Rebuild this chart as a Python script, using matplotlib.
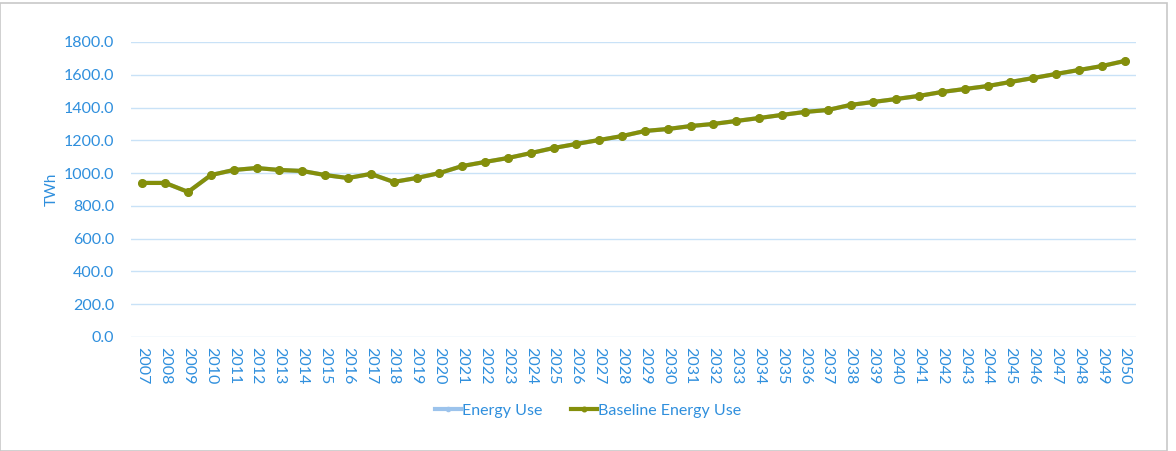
import numpy as np
import matplotlib
matplotlib.use('Agg')
import matplotlib.pyplot as plt
from matplotlib.patches import Rectangle

plt.rcParams['font.family'] = ['Lato', 'DejaVu Sans']

years = list(range(2007, 2051))
baseline = [940, 940, 885, 988, 1019, 1031, 1019, 1013, 988, 970,
            995, 946, 970, 1000, 1043, 1068, 1092, 1122, 1153, 1178,
            1202, 1226, 1257, 1269, 1287, 1300, 1318, 1336, 1355, 1373,
            1385, 1416, 1434, 1452, 1471, 1495, 1513, 1531, 1556, 1580,
            1605, 1629, 1653, 1684]
energy_use = list(baseline)

blue = '#2F8FDD'
grid_c = '#C9E2F7'
olive = '#848F0B'
light = '#9CC3EC'

fig = plt.figure(figsize=(11.76, 4.51), dpi=100)
fig.patches.append(Rectangle((0.0, 0.0), 0.992, 0.993, transform=fig.transFigure,
                             fill=False, edgecolor='#C8C8C8', linewidth=1.2))
ax = fig.add_axes([0.1114, 0.2528, 0.8546, 0.6541])

x = np.arange(len(years))
ax.plot(x, energy_use, color=light, lw=3, marker='o', ms=5, label='Energy Use', zorder=2)
ax.plot(x, baseline, color=olive, lw=3, marker='o', ms=5.5, label='Baseline Energy Use', zorder=3)

ax.set_xlim(-0.5, len(years) - 0.5)
ax.set_ylim(0, 1800)
ax.set_yticks(np.arange(0, 1801, 200))
ax.set_yticklabels([f'{v:.1f}' for v in np.arange(0, 1801, 200)])
ax.set_xticks(x)
ax.set_xticklabels([str(y) for y in years], rotation=-90)
ax.tick_params(axis='both', length=0, colors=blue, labelsize=11.5)
ax.tick_params(axis='y', pad=12)
ax.tick_params(axis='x', pad=7)
ax.grid(axis='y', color=grid_c, lw=1)
ax.set_axisbelow(True)
for s in ax.spines.values():
    s.set_visible(False)
ax.set_ylabel('TWh', color=blue, fontsize=11, labelpad=4)

ax.legend(loc='center', bbox_to_anchor=(0.455, -0.25), ncol=2, frameon=False,
          fontsize=11.5, labelcolor=blue, handlelength=1.6, handletextpad=0.1,
          columnspacing=1.8, markerscale=0.6)

fig.savefig('out.png', dpi=100)
